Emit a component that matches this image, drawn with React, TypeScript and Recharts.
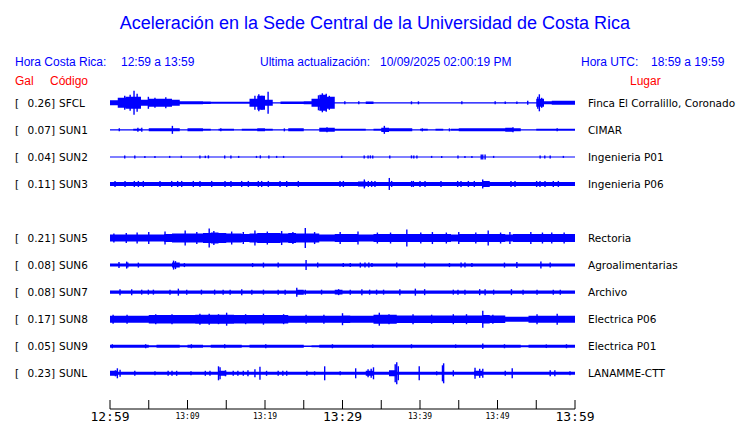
import { ComposedChart, Area, XAxis, YAxis, ReferenceLine } from 'recharts';

// stations, top to bottom (slot 4 is the missing SUN4 row)
const CODES = ['SFCL', 'SUN1', 'SUN2', 'SUN3', 'SUN5', 'SUN6', 'SUN7', 'SUN8', 'SUN9', 'SUNL'];
const PGA = ['0.26', '0.07', '0.04', '0.11', '0.21', '0.08', '0.08', '0.17', '0.05', '0.23'];
const PLACES = [
  'Finca El Corralillo, Coronado', 'CIMAR', 'Ingenieria P01', 'Ingenieria P06',
  'Rectoria', 'Agroalimentarias', 'Archivo', 'Electrica P06', 'Electrica P01', 'LANAMME-CTT',
];
const SLOTS = [0, 1, 2, 3, 5, 6, 7, 8, 9, 10];

// minutes after 12:59
const TICKS = [0, 5, 10, 15, 20, 25, 30, 35, 40, 45, 50, 55, 60];
const TICK_LABELS = ['12:59', '', '13:09', '', '13:19', '', '13:29', '', '13:39', '', '13:49', '', '13:59'];
const BIG_TICKS = ['12:59', '13:29', '13:59'];

// envelope half-amplitude per minute (px)
const SFCL_BASE = [
  2.5, 5, 6, 6, 3, 4, 4, 4, 3, 1.5,
  1.5, 1.5, 1.2, 1, 1, 1, 1, 1, 4, 7,
  3, 0.6, 1.2, 1.2, 1.2, 1.5, 4, 8, 6, 0.6,
  0.6, 0.6, 0.6, 1.2, 0.6, 0.6, 0.6, 0.6, 0.6, 0.6,
  0.6, 0.6, 0.6, 0.6, 0.6, 0.6, 0.6, 0.6, 0.6, 0.6,
  0.6, 0.6, 0.6, 0.6, 0.6, 4, 1.5, 2, 2, 2,
];
const SUN1_BASE = [
  0.7, 0.7, 0.7, 1, 0.7, 1.5, 1.5, 1.5, 1.5, 0.7,
  1.5, 1.5, 1, 0.7, 1, 1, 0.7, 1, 1, 1.5,
  1, 0.7, 0.7, 1.5, 1.5, 0.7, 0.7, 2, 2, 1,
  1, 1, 1, 0.7, 1, 2.2, 1.5, 1.5, 1.5, 0.7,
  1, 0.7, 1, 0.7, 1, 1.5, 1.5, 1.5, 1.5, 1.5,
  1.5, 2, 1.5, 0.7, 0.7, 1, 1, 1, 1, 1,
];
const SUN2_BASE = [
  0.5, 0.5, 0.5, 0.5, 0.5, 0.5, 0.5, 0.5, 0.5, 0.5,
  0.5, 0.5, 0.5, 0.5, 0.5, 0.5, 0.5, 0.5, 0.5, 0.5,
  0.5, 0.5, 0.5, 0.5, 0.5, 0.5, 0.5, 0.5, 0.5, 0.5,
  0.5, 0.5, 0.5, 0.5, 0.5, 0.5, 0.5, 0.5, 0.5, 0.5,
  0.5, 0.5, 0.5, 0.5, 0.5, 0.5, 0.5, 0.5, 0.5, 0.5,
  0.5, 0.5, 0.5, 0.5, 0.5, 0.5, 0.5, 0.5, 0.5, 0.5,
];
const SUN3_BASE = [
  2, 2, 2, 2, 2, 2, 2, 2, 2, 2,
  2, 2, 2, 2, 2, 2, 2, 2, 2, 2,
  2, 2, 2, 2, 2, 2, 2, 2, 2, 2,
  2, 2, 2.5, 2, 2, 2, 2, 2, 2, 2,
  2, 2, 2, 2, 2, 2, 2, 2, 3, 2,
  2, 2, 2, 2, 2, 2, 2, 2, 2, 2,
];
const SUN5_BASE = [
  3.5, 3.5, 3.5, 3.5, 3.5, 3.5, 3.5, 4, 4.5, 4.5,
  4.5, 4.5, 5, 5.5, 5, 4.5, 4.5, 4, 4.5, 5,
  5, 5, 4.5, 5, 4.5, 4.5, 4.5, 3.5, 3.5, 4,
  4, 4, 3.5, 3.5, 4, 4, 4, 4, 4, 4,
  4, 4, 4, 4, 3.5, 4, 4, 4, 4, 4,
  4, 3.5, 4, 4, 4, 4, 4, 4, 4, 4,
];
const SUN6_BASE = [
  1.5, 1.5, 1.5, 1.5, 1.5, 1.5, 1.5, 1.5, 2.5, 1.5,
  1.5, 1.5, 1.5, 1.5, 1.5, 1.5, 1.5, 1.5, 1.5, 1.5,
  1.5, 1.5, 1.5, 1.5, 1.5, 1.5, 1.5, 1.5, 1.5, 1.5,
  1.5, 1.5, 1.5, 1.5, 1.5, 1.5, 1.5, 1.5, 1.5, 1.5,
  1.5, 1.5, 1.5, 1.5, 1.5, 1.5, 1.5, 1.5, 1.5, 1.5,
  1.5, 1.5, 1.5, 1.5, 1.5, 1.5, 1.5, 1.5, 1.5, 1.5,
];
const SUN7_BASE = [
  1.7, 1.7, 1.7, 1.7, 1.7, 1.7, 1.7, 1.7, 1.7, 1.7,
  1.7, 1.7, 1.7, 1.7, 1.7, 1.7, 1.7, 1.7, 1.7, 1.7,
  1.7, 1.7, 1.7, 1.7, 2.5, 1.7, 1.7, 1.7, 1.7, 2.3,
  1.7, 1.7, 1.7, 1.7, 1.7, 1.7, 1.7, 1.7, 1.7, 1.7,
  1.7, 1.7, 1.7, 1.7, 1.7, 1.7, 1.7, 1.7, 1.7, 1.7,
  1.7, 1.7, 1.7, 1.7, 1.7, 1.7, 1.7, 1.7, 1.7, 1.7,
];
const SUN8_BASE = [
  3.5, 3.5, 3.5, 3.5, 3.5, 4.2, 4.2, 4.2, 4.2, 4.2,
  4.2, 4.5, 4.5, 4.5, 4.5, 4.5, 4.2, 4.2, 4.2, 4.2,
  4.2, 4.2, 4.2, 3.5, 3.5, 3.5, 3.5, 3.5, 3.5, 3.5,
  3.8, 3.5, 3.5, 3.5, 4.5, 4.5, 4.5, 3.8, 3.8, 3.8,
  3.8, 3.8, 3.8, 3.8, 3.8, 3.8, 3.8, 3.8, 4.2, 3.8,
  3.8, 2.5, 2.5, 2.5, 3.5, 3.5, 3.5, 3.5, 3.5, 3.5,
];
const SUN9_BASE = [
  1.5, 1.5, 1.5, 1.5, 1.5, 1, 1.5, 1.5, 1.5, 1,
  1.5, 1.5, 1, 1.5, 1.5, 1.5, 1.5, 1, 1.5, 1.5,
  1.5, 1.5, 1.5, 1.5, 1.5, 0.8, 1, 1.5, 1.5, 1.5,
  1.5, 1.5, 1.5, 1.5, 1.5, 1.5, 1.5, 1.5, 1.5, 1.5,
  1.5, 1.5, 1.5, 1.5, 1.5, 1.5, 1.5, 1.5, 1.5, 1.5,
  1.5, 1.5, 1.5, 1, 1.5, 1.5, 1.5, 1.5, 1.5, 1.5,
];
const SUNL_BASE = [
  2.5, 1.5, 1.5, 1.5, 1.5, 1.5, 1.5, 1.5, 1.5, 1.5,
  1.5, 1.5, 1.5, 1.5, 2.5, 1.5, 1.5, 1.5, 1.5, 1.5,
  1.5, 1.5, 1.5, 1.5, 1.5, 1.5, 1.5, 1.5, 1.5, 1.5,
  1.5, 1.5, 1.5, 2.5, 1.5, 1.5, 3, 1.5, 1.5, 1.5,
  1.5, 1.5, 1.5, 1.5, 1.5, 1.5, 1.5, 2.5, 1.5, 1.5,
  1.5, 1.5, 1.5, 1.5, 1.5, 1.5, 1.5, 1.5, 1.5, 1.5,
];

// isolated peaks: [minute, half-amplitude px]
const SFCL_SPIKES = [
  [1.9, 7], [2.6, 8], [3.1, 12], [3.5, 9], [4.95, 6], [5.8, 5], [7.2, 5.5],
  [18.7, 7], [19.2, 8.5], [19.6, 7], [20.4, 11], [26.9, 7.5], [27.4, 9.5], [27.9, 9], [28.3, 7],
  [30.3, 1.5], [32.1, 1.5], [38.9, 1.5], [39.8, 1.5], [45.4, 1.5], [49.7, 1.5], [51.0, 1.2],
  [52.5, 1.2], [53.9, 2], [55.2, 6], [55.4, 8.5], [55.7, 5],
];
const SUN1_SPIKES = [
  [1.2, 1.5], [3.6, 2], [4.1, 2], [8.05, 4], [14.3, 1.5], [22.5, 1.5], [28.0, 2.5],
  [35.4, 4], [40.3, 1.5], [43.8, 1.5], [52.0, 2.5], [57.7, 1.5],
];
const SUN2_SPIKES = [
  [1.9, 1.5], [3.2, 1.5], [4.5, 1], [5.8, 1], [7.7, 1], [9.2, 1.2], [11.6, 1.5], [12.3, 1.2],
  [12.7, 1.5], [14.8, 1.5], [15.6, 1.5], [16.6, 1], [18.9, 1], [19.4, 1.5], [20.5, 1.5],
  [21.5, 1], [22.4, 1], [29.9, 1.2], [32.8, 1.5], [33.3, 1.5], [33.6, 1.5], [33.9, 1.5],
  [36.1, 1.5], [38.9, 1.5], [39.2, 1.5], [39.6, 1.5], [41.5, 1], [42.8, 1], [44.9, 1.5],
  [45.8, 1], [46.7, 1], [47.9, 2.5], [48.1, 2.5], [48.4, 2.5], [49.5, 1], [55.5, 1.5],
  [56.1, 1.5], [56.8, 1.5], [58.5, 1],
];
const SUN3_SPIKES = [
  [0.65, 3], [1.94, 3], [3.14, 3], [3.66, 3], [4.3, 3], [6.45, 3], [7.96, 3], [8.73, 3],
  [9.25, 3], [10.75, 3], [11.61, 3], [13.12, 3], [14.84, 3], [15.61, 3], [16.99, 3], [17.85, 3],
  [19.14, 3], [19.57, 3], [20.43, 3], [21.94, 3], [22.8, 3], [24.3, 3], [29.68, 3], [30.11, 3],
  [32.82, 4.5], [33.33, 3], [33.76, 3], [34.19, 3], [36.04, 6], [36.34, 3], [38.92, 3],
  [39.14, 3], [40.0, 3], [40.65, 3], [42.71, 3], [44.86, 3], [45.29, 3], [46.24, 3], [47.01, 3],
  [48.09, 4.5], [48.39, 3], [51.74, 3], [52.26, 3], [55.05, 3], [55.48, 3], [56.13, 3],
  [57.2, 3], [57.85, 3],
];
const SUN5_SPIKES = [
  [0.5, 4.5], [2.1, 5], [3.5, 5.5], [5, 6], [7.1, 6.5], [9.7, 7.5], [11.2, 6], [12.8, 9.5],
  [13.4, 7], [15.7, 6.5], [17.2, 6], [18.7, 7.5], [20.3, 6.5], [22.15, 7], [23.6, 6], [25.2, 10],
  [26.4, 6], [29.7, 6], [32, 6.5], [34.5, 5.5], [36.2, 5.5], [38.3, 8.5], [40.1, 5.5], [41.6, 6],
  [43.4, 5.5], [45, 6], [47.2, 5.5], [48.8, 7.5], [50.4, 5.5], [51.6, 6], [54.3, 6], [55.8, 5.5],
  [57, 5.5], [58.6, 5.5],
];
const SUN6_SPIKES = [
  [1.16, 3], [2.15, 3.5], [2.3, 2.5], [3.66, 2.5], [8.2, 4.5], [8.45, 4], [9.6, 2], [18.4, 2],
  [19.8, 2.5], [21.7, 2.5], [25.3, 5], [26.8, 2.5], [30.1, 2], [31.0, 2], [32.3, 2.5], [32.9, 2.5],
  [33.4, 2.5], [33.8, 2], [37.0, 2.5], [40.6, 2.5], [43.8, 2], [45.3, 2.5], [45.8, 2.5],
  [46.7, 2], [50.9, 2.5], [52.5, 3], [55.6, 3.5], [56.8, 2.5],
];
const SUN7_SPIKES = [
  [1.29, 3], [2.8, 3], [4.09, 2.5], [4.95, 2.5], [5.6, 2.5], [7.74, 2.5], [8.82, 3.5], [9.9, 2.5],
  [11.8, 2.5], [13.5, 2.5], [14.6, 2.5], [15.5, 2.5], [17.0, 3], [18.3, 2.5], [19.8, 2.5],
  [21.7, 2.5], [22.6, 2.5], [24.1, 4.5], [25.2, 2.5], [27.3, 2.5], [29.5, 3], [31.0, 2.5],
  [32.5, 3], [33.5, 2.5], [34.4, 2.5], [35.3, 2.5], [37.4, 3], [39.4, 3.5], [40.6, 3],
  [44.3, 2.5], [44.9, 2.5], [45.8, 2.5], [47.7, 3], [48.4, 3], [49.5, 2.5], [51.8, 3],
  [53.3, 2.5], [55.1, 2.5], [57.2, 2.5], [58.1, 2.5],
];
const SUN8_SPIKES = [
  [0.4, 4.5], [2.2, 4.5], [5.9, 5], [8.0, 5], [11.6, 5.5], [12.8, 5.5], [14, 5], [15.05, 6.5],
  [17.5, 5], [19.8, 5.5], [22.4, 5], [25.3, 4.5], [27.6, 4.5], [30.0, 6], [34.75, 6.5], [36, 5],
  [39.1, 5], [41.5, 4.5], [44.3, 5], [46, 5], [48.1, 8.5], [49.4, 4.5], [55.1, 5], [57.7, 5.5],
];
const SUN9_SPIKES = [
  [0.3, 2], [4.6, 2], [10.5, 2], [14.8, 2], [20.1, 2], [28.7, 2], [33.9, 1.8], [38.9, 2],
  [44.6, 1.8], [48.1, 2.8], [50.9, 2], [56.3, 1.8], [58.9, 2],
];
const SUNL_SPIKES = [
  [0.7, 3], [0.95, 5], [1.3, 3.5], [3.2, 2.5], [5.8, 2], [7.5, 2.5], [8.0, 2.5], [8.6, 2.5],
  [10.45, 2], [12.3, 2.5], [12.9, 2.5], [14.0, 7], [14.2, 6], [14.9, 3], [15.9, 2.5], [16.5, 2.5],
  [17.2, 2.5], [17.8, 3], [18.7, 4], [19.35, 6.5], [20.2, 2.5], [21.7, 2.5], [22.3, 2.5],
  [22.8, 2.5], [25.4, 2.5], [26.4, 2], [27.7, 7], [29.7, 2], [31.7, 5], [33.3, 4], [33.7, 4.5],
  [34.0, 6], [36.8, 9], [37.0, 11], [37.2, 7], [39.9, 7], [42.15, 2], [42.9, 8], [43.05, 10],
  [44.3, 3], [47.1, 5.5], [47.7, 4.5], [48.1, 4.5], [51.0, 2.5], [51.9, 5], [56.8, 3], [57.4, 3],
  [59.35, 2],
];

const BASES = [SFCL_BASE, SUN1_BASE, SUN2_BASE, SUN3_BASE, SUN5_BASE, SUN6_BASE, SUN7_BASE, SUN8_BASE, SUN9_BASE, SUNL_BASE];
const SPIKES = [SFCL_SPIKES, SUN1_SPIKES, SUN2_SPIKES, SUN3_SPIKES, SUN5_SPIKES, SUN6_SPIKES, SUN7_SPIKES, SUN8_SPIKES, SUN9_SPIKES, SUNL_SPIKES];

// layout
const W = 740;
const H = 423;
const PLOT_LEFT = 110;
const PLOT_RIGHT = 575;
const PLOT_BOTTOM = 409;
const ROW_TOP = 102.8;
const ROW_GAP = 27.05;
const BLUE = '#0000ff';
const RED = '#ff0000';
const SANS = '"Liberation Sans", Arial, sans-serif';
const LABEL_FONT = '"DejaVu Sans", sans-serif';
const MONO = '"DejaVu Sans Mono", monospace';

const rowY = (slot: number) => ROW_TOP + ROW_GAP * slot;

const data: any[] = [];
for (let m = 0; m <= 60; m++) {
  const row: any = { t: m };
  CODES.forEach((c, k) => {
    const a = BASES[k][Math.min(m, 59)] / ROW_GAP;
    row[c] = [SLOTS[k] - a, SLOTS[k] + a];
  });
  data.push(row);
}

const TimeTick = ({ x, y, payload }: any) => {
  const i = TICKS.indexOf(payload.value);
  const label = TICK_LABELS[i] ?? '';
  const big = BIG_TICKS.includes(label);
  return (
    <g>
      <line x1={x} y1={y} x2={x} y2={y - 9} stroke="#000" strokeWidth={1} />
      {label && (
        <text x={x} y={y + (big ? 12 : 9.5)} textAnchor="middle" fontFamily={MONO}
          fontSize={big ? 13 : 8} fill="#000">
          {label}
        </text>
      )}
    </g>
  );
};

export default function App() {
  return (
    <div style={{ position: 'absolute', left: 0, top: 0, width: W, height: H, background: '#fff' }}>
      <ComposedChart width={W} height={H} data={data}
        margin={{ top: 0, right: W - PLOT_RIGHT, left: PLOT_LEFT, bottom: 0 }}>
        <XAxis dataKey="t" type="number" domain={[0, 60]} ticks={TICKS} interval={0}
          allowDataOverflow height={H - PLOT_BOTTOM} tickSize={0} tickMargin={0}
          tickLine={false} axisLine={{ stroke: '#000' }} tick={<TimeTick />} />
        <YAxis type="number" hide reversed allowDataOverflow
          domain={[-ROW_TOP / ROW_GAP, (PLOT_BOTTOM - ROW_TOP) / ROW_GAP]} />
        {CODES.map(c => (
          <Area key={c} type="stepAfter" dataKey={c} fill={BLUE} fillOpacity={1} stroke="none"
            dot={false} activeDot={false} isAnimationActive={false} />
        ))}
        {SPIKES.map((list, k) => list.map(([m, a], j) => (
          <ReferenceLine key={`${k}-${j}`} ifOverflow="visible" stroke={BLUE} strokeWidth={1.4}
            segment={[{ x: m, y: SLOTS[k] - a / ROW_GAP }, { x: m, y: SLOTS[k] + a / ROW_GAP }]} />
        )))}
      </ComposedChart>
      <svg width={W} height={H} style={{ position: 'absolute', left: 0, top: 0, pointerEvents: 'none' }}>
        <text x={375} y={29} textAnchor="middle" fontFamily={SANS} fontSize={18} fill={BLUE}>
          Aceleración en la Sede Central de la Universidad de Costa Rica
        </text>
        <g fontFamily={SANS} fontSize={12} fill={BLUE}>
          <text x={15} y={66}>Hora Costa Rica:</text>
          <text x={121} y={66}>12:59 a 13:59</text>
          <text x={260} y={66}>Ultima actualización:</text>
          <text x={380} y={66}>10/09/2025 02:00:19 PM</text>
          <text x={581} y={66}>Hora UTC:</text>
          <text x={651} y={66}>18:59 a 19:59</text>
        </g>
        <g fontFamily={SANS} fontSize={12} fill={RED}>
          <text x={15} y={85}>Gal</text>
          <text x={50} y={85}>Código</text>
          <text x={630} y={85}>Lugar</text>
        </g>
        <g fontFamily={LABEL_FONT} fontSize={10.5} fill="#000">
          {CODES.map((c, k) => {
            const y = rowY(SLOTS[k]) + 4;
            return (
              <g key={c}>
                <text x={15} y={y}>[</text>
                <text x={55} y={y} textAnchor="end">{PGA[k]}]</text>
                <text x={59} y={y}>{c}</text>
                <text x={588} y={y}>{PLACES[k]}</text>
              </g>
            );
          })}
        </g>
      </svg>
    </div>
  );
}
